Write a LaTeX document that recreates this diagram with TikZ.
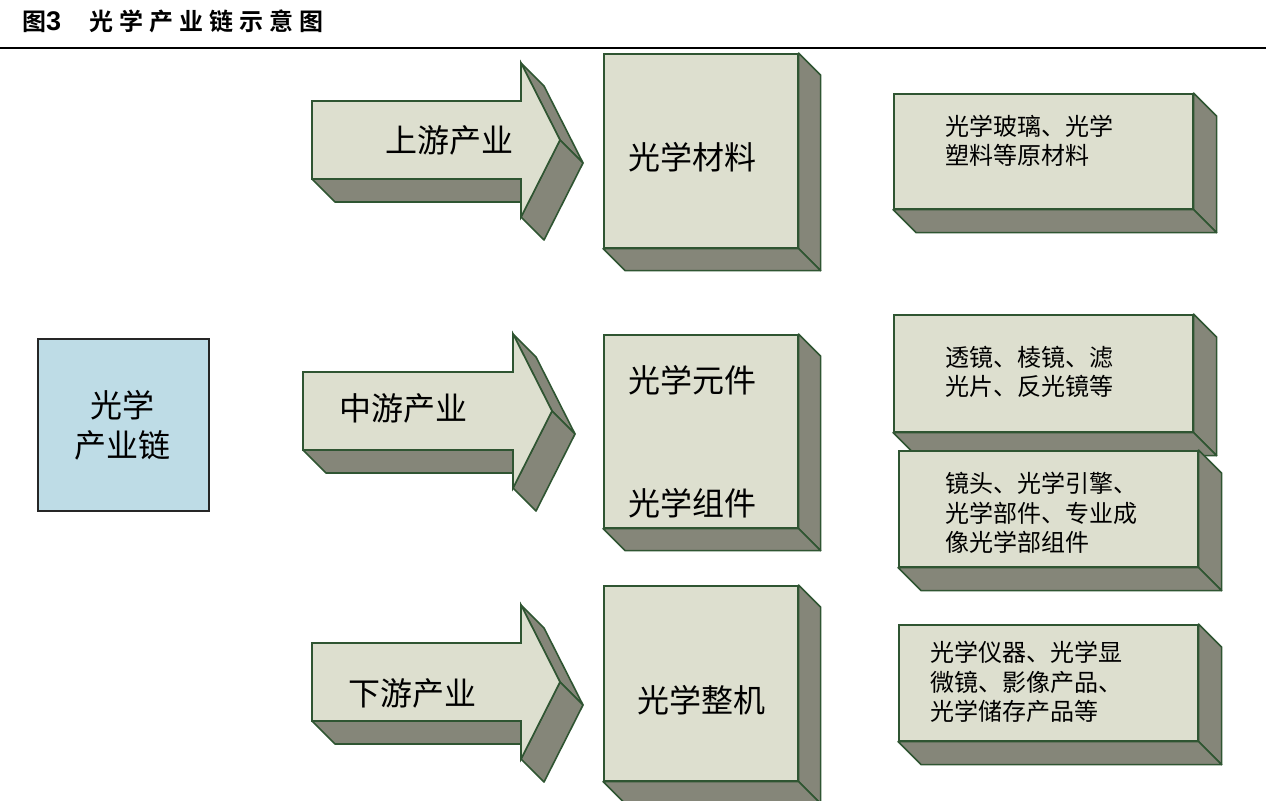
\documentclass[tikz,border=0pt]{standalone}
\usepackage{fontspec}
\setmainfont{Liberation Sans}
\newfontfamily\cjk{Noto Sans CJK SC}
\newfontfamily\cjkb{Noto Sans CJK SC Bold}
\definecolor{frontc}{HTML}{DDDFCF}
\definecolor{darkc}{HTML}{858679}
\definecolor{bord}{HTML}{2F5532}
\definecolor{leftc}{HTML}{BEDCE6}
\pgfdeclarelayer{bg}
\pgfsetlayers{bg,main}
\tikzset{
  frontbox/.style={draw=bord, fill=frontc, line width=1.6pt, inner sep=0pt, anchor=north west},
  face/.style={draw=bord, fill=darkc, line width=1.6pt, line join=round},
  frontp/.style={draw=bord, fill=frontc, line width=1.6pt, line join=miter},
  bigtxt/.style={inner sep=0pt, font=\cjk\fontsize{32}{40}\selectfont, align=center},
  smalltxt/.style={inner sep=0pt, anchor=west, font=\cjk\fontsize{24}{29.5}\selectfont, align=left}
}
% name, x, y, width, height, depth
\newcommand\boxthd[6]{%
  \node[frontbox, minimum width=#4pt, minimum height=#5pt] (#1) at (#2,#3) {};
  \begin{pgfonlayer}{bg}
    \draw[face] (#1.north east) -- ++(#6,#6) -- ([shift={(#6,#6)}]#1.south east) -- (#1.south east) -- cycle;
    \draw[face] (#1.south west) -- (#1.south east) -- ([shift={(#6,#6)}]#1.south east) -- ([shift={(#6,#6)}]#1.south west) -- cycle;
  \end{pgfonlayer}
}
% x0, yc, xhead, xtip
\newcommand\arrowthd[4]{%
  \draw[face] ({#1},{#2+39}) -- ({#3},{#2+39}) -- ({#3+23},{#2+62}) -- ({#1+23},{#2+62}) -- cycle;
  \draw[face] ({#3},{#2-77}) -- ({#4},{#2}) -- ({#4+23},{#2+23}) -- ({#3+23},{#2-54}) -- cycle;
  \draw[face] ({#4},{#2}) -- ({#3},{#2+77}) -- ({#3+23},{#2+100}) -- ({#4+23},{#2+23}) -- cycle;
  \draw[frontp] ({#1},{#2-39}) -- ({#3},{#2-39}) -- ({#3},{#2-77}) -- ({#4},{#2}) -- ({#3},{#2+77}) -- ({#3},{#2+39}) -- ({#1},{#2+39}) -- cycle;
}
\newcommand\tsp{\hspace{6pt}}
\begin{document}
\begin{tikzpicture}[x=1pt,y=-1pt]
\useasboundingbox (0,0) rectangle (1284,800);
\begin{pgfonlayer}{bg}
  \fill[white] (0,0) rectangle (1284,800);
\end{pgfonlayer}

% title
\node[anchor=base west, inner sep=0pt] (title) at (22,31)
  {{\cjkb\fontsize{24}{24}\selectfont 图}{\bfseries\fontsize{27}{27}\selectfont 3}};
\node[anchor=base west, inner sep=0pt] (title2) at (89,31)
  {\cjkb\fontsize{24}{24}\selectfont 光\tsp 学\tsp 产\tsp 业\tsp 链\tsp 示\tsp 意\tsp 图};
\coordinate (rulea) at (0,48);
\coordinate (ruleb) at (1266,48);
\draw[line width=1.4pt] (rulea) -- (ruleb);

% left box
\node[draw=black!85, fill=leftc, line width=1.6pt, minimum width=171pt, minimum height=172pt, anchor=north west, inner sep=0pt] (chain) at (37,338) {};
\node[bigtxt] (chaint) at (122,425) {光学\\产业链};

% arrows
\arrowthd{312}{140}{521}{560}
\node[bigtxt] (up) at (449,140) {上游产业};
\arrowthd{303}{411}{513}{552}
\node[bigtxt] (mid) at (403,408) {中游产业};
\arrowthd{312}{682}{521}{560}
\node[bigtxt] (down) at (412,693) {下游产业};

% middle boxes
\boxthd{mat}{603}{53}{194}{194}{22}
\node[bigtxt] (matt) at (692,157) {光学材料};
\boxthd{comp}{603}{334}{194}{193}{22}
\node[bigtxt] (compa) at (692,380) {光学元件};
\node[bigtxt] (compb) at (692,503) {光学组件};
\boxthd{whole}{603}{585}{194}{195}{22}
\node[bigtxt] (wholet) at (701,700) {光学整机};

% right boxes
\boxthd{ra}{893}{93}{299}{115}{23}
\node[smalltxt] (rat) at (945,141) {光学玻璃、光学\\塑料等原材料};
\boxthd{rb}{893}{314}{299}{117}{23}
\node[smalltxt] (rbt) at (945,372) {透镜、棱镜、滤\\光片、反光镜等};
\boxthd{rc}{898}{450}{299}{116}{23}
\node[smalltxt] (rct) at (945,513) {镜头、光学引擎、\\光学部件、专业成\\像光学部组件};
\boxthd{rd}{898}{624}{299}{116}{23}
\node[smalltxt] (rdt) at (930,682) {光学仪器、光学显\\微镜、影像产品、\\光学储存产品等};
\end{tikzpicture}
\end{document}
